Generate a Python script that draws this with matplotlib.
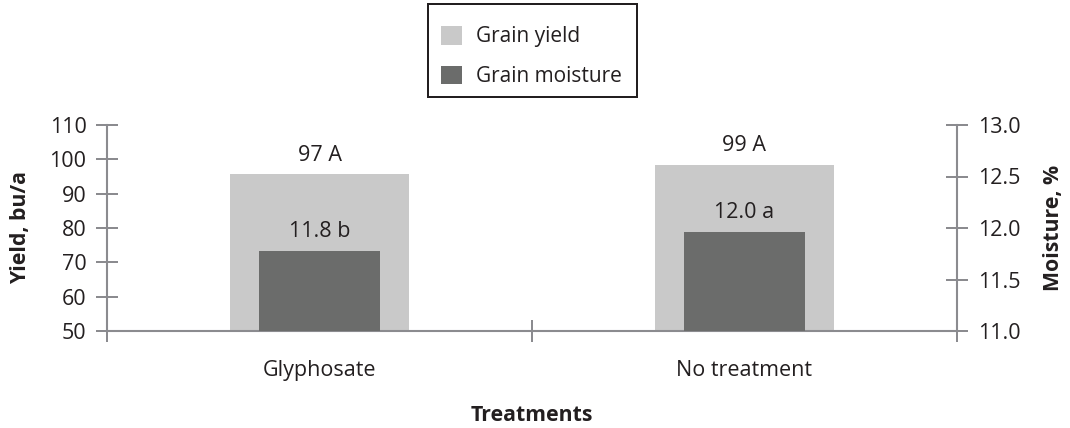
import matplotlib
matplotlib.use("Agg")
import matplotlib.pyplot as plt
from matplotlib.patches import Patch, Rectangle

plt.rcParams['font.family'] = ['Open Sans', 'DejaVu Sans']

categories = ["Glyphosate", "No treatment"]
grain_yield = [95.7, 98.4]
grain_moisture = [11.78, 11.96]
yield_labels = ["97 A", "99 A"]
moisture_labels = ["11.8 b", "12.0 a"]
yield_ticks = [50, 60, 70, 80, 90, 100, 110]
moisture_ticks = [11.0, 11.5, 12.0, 12.5, 13.0]

c_yield = "#c9c9c9"
c_moist = "#6b6c6b"
c_axis = "#8b8b8f"
c_text = "#231f20"
fs = 15.5
fs_bold = 15.3

W, H = 1070, 428
fig = plt.figure(figsize=(W/100, H/100), dpi=100)
ax = fig.add_axes([107/W, 1-331/H, 850/W, 206/H])
ax2 = ax.twinx()

x = [0.5, 1.5]
ax.bar(x, [v - 50 for v in grain_yield], bottom=50, width=0.4235, color=c_yield, zorder=1)
ax2.bar(x, [v - 11 for v in grain_moisture], bottom=11, width=0.287, color=c_moist, zorder=1)

for xi, v, lab in zip(x, grain_yield, yield_labels):
    ax.annotate(lab, (xi, v), xytext=(0, 13.5), textcoords='offset pixels',
                ha='center', va='baseline', fontsize=fs, color=c_text)
for xi, v, lab in zip(x, grain_moisture, moisture_labels):
    ax2.annotate(lab, (xi, v), xytext=(0, 14), textcoords='offset pixels',
                 ha='center', va='baseline', fontsize=fs, color=c_text)

ax.set_xlim(0, 2)
ax.set_ylim(50, 110)
ax2.set_ylim(11, 13)
ax.set_yticks(yield_ticks)
ax2.set_yticks(moisture_ticks)
ax2.set_yticklabels([f"{t:.1f}" for t in moisture_ticks])

ax.set_xticks([0, 1, 2])
ax.set_xticklabels([])
ax.set_xticks(x, minor=True)
ax.set_xticklabels(categories, minor=True)
tw = 1.44
ax.tick_params(axis='x', which='major', direction='inout', length=16.5, width=tw, color=c_axis)
ax.tick_params(axis='x', which='minor', length=0, pad=21, labelsize=fs, labelcolor=c_text)
ax.tick_params(axis='y', direction='inout', length=16.5, width=tw, color=c_axis,
               pad=6.5, labelsize=fs, labelcolor=c_text)
ax2.tick_params(axis='y', direction='inout', length=16.5, width=tw, color=c_axis,
                pad=7, labelsize=fs, labelcolor=c_text)

for a in (ax, ax2):
    for s in a.spines.values():
        s.set_visible(False)
    a.set_facecolor('none')
ax.spines['left'].set_visible(True)
ax.spines['bottom'].set_visible(True)
ax2.spines['right'].set_visible(True)
for s in (ax.spines['left'], ax.spines['bottom'], ax2.spines['right']):
    s.set_color(c_axis)
    s.set_linewidth(1.5)

ax.set_ylabel("Yield, bu/a", fontsize=fs_bold, fontweight='bold', color=c_text, va='center')
ax.yaxis.set_label_coords((21 - 107) / 850, 0.5)
ax2.set_ylabel("Moisture, %", fontsize=fs_bold, fontweight='bold', color=c_text, va='center')
ax2.yaxis.set_label_coords((1054 - 107) / 850, 0.5)
ax.set_xlabel("Treatments", fontsize=fs_bold, fontweight='bold', color=c_text, va='center')
ax.xaxis.set_label_coords(0.5, (331 - 415.5) / 206)

# legend frame (box) drawn separately for asymmetric padding
fig.patches.append(Rectangle((428/W, 1-97/H), 209/W, 93/H, transform=fig.transFigure,
                             facecolor='white', edgecolor=c_text, linewidth=1.44, zorder=0))
handles = [Patch(facecolor=c_yield, label="Grain yield"),
           Patch(facecolor=c_moist, label="Grain moisture")]
leg = fig.legend(handles=handles, loc='upper left', bbox_to_anchor=(441/W, 1-26/H),
                 fontsize=15, frameon=False,
                 handlelength=1.0, handleheight=1.0, handletextpad=0.68,
                 labelspacing=0.88, borderpad=0, borderaxespad=0)
for t in leg.get_texts():
    t.set_color(c_text)

fig.savefig("out.png", dpi=100)
